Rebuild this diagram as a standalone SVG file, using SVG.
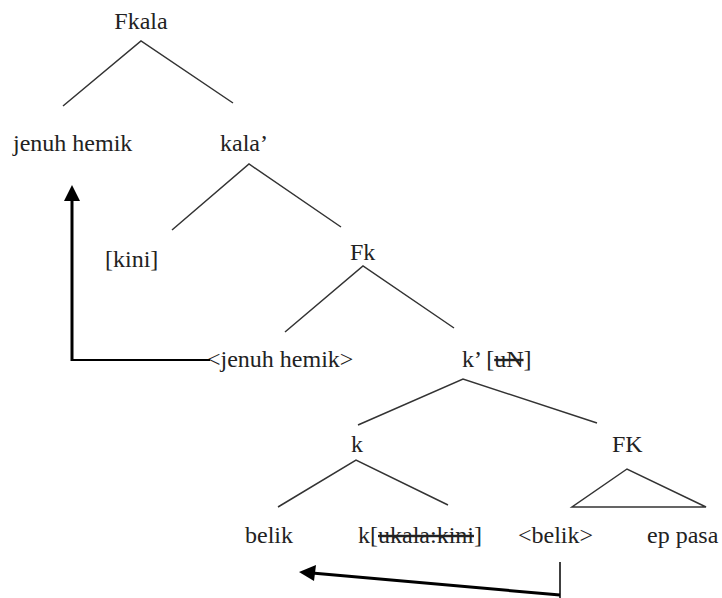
<svg xmlns="http://www.w3.org/2000/svg" width="722" height="598" viewBox="0 0 722 598">
<style>
text{font-family:"Liberation Serif","Times New Roman",serif;font-size:24px;fill:#222}
.br{stroke:#333;stroke-width:1.5;fill:none}
.mv{stroke:#000;stroke-width:3;fill:none}
.st{text-decoration:line-through}
</style>
<defs>
<marker id="ah" markerWidth="6" markerHeight="6" refX="5" refY="3" orient="auto" markerUnits="strokeWidth">
<path d="M0,0 L6,3 L0,6 Z" fill="#000"/>
</marker>
</defs>
<rect width="722" height="598" fill="#fff"/>
<g id="n-fkala"><text x="141" y="29" text-anchor="middle">Fkala</text></g>
<g id="n-jenuh"><text x="13" y="151">jenuh hemik</text></g>
<g id="n-kala"><text x="220" y="151">kala’</text></g>
<g id="n-kini"><text x="105" y="267">[kini]</text></g>
<g id="n-fk"><text x="350" y="260">Fk</text></g>
<g id="n-jenuh2"><text x="207" y="367">&lt;jenuh hemik&gt;</text></g>
<g id="n-kbar"><text x="462" y="367">k’ [<tspan class="st">uN</tspan>]</text></g>
<g id="n-k"><text x="357" y="452" text-anchor="middle">k</text></g>
<g id="n-FK"><text x="612" y="452">FK</text></g>
<g id="n-belik"><text x="245" y="543">belik</text></g>
<g id="n-kukala"><text x="358" y="543">k[<tspan class="st">ukala:kini</tspan>]</text></g>
<g id="n-belik2"><text x="518" y="543">&lt;belik&gt;</text></g>
<g id="n-eppasa"><text x="647" y="543">ep pasa</text></g>
<g id="n-fk-tri"><path class="br" d="M627,469 L572,507 L706,507 Z"/></g>
<g id="connectors">
<path class="br" d="M63,106 L141,41 L233,103"/>
<path class="br" d="M172,230 L249,164 L341,227"/>
<path class="br" d="M285,332 L363,266 L454,328"/>
<path class="br" d="M358,425 L463,379 L597,423"/>
<path class="br" d="M278,507 L356,460 L448,505"/>
<path stroke="#000" stroke-width="2" fill="none" d="M210,360 L72,360"/>
<path class="mv" d="M72,361 L72,198"/>
<path d="M72,185 L80,201 L64,201 Z" fill="#000"/>
<path stroke="#000" stroke-width="1.5" fill="none" d="M560,562 L560,598"/>
<path class="mv" d="M560,595 L312,573"/>
<path d="M299,572 L316,565 L314,581 Z" fill="#000"/>
</g>
</svg>
